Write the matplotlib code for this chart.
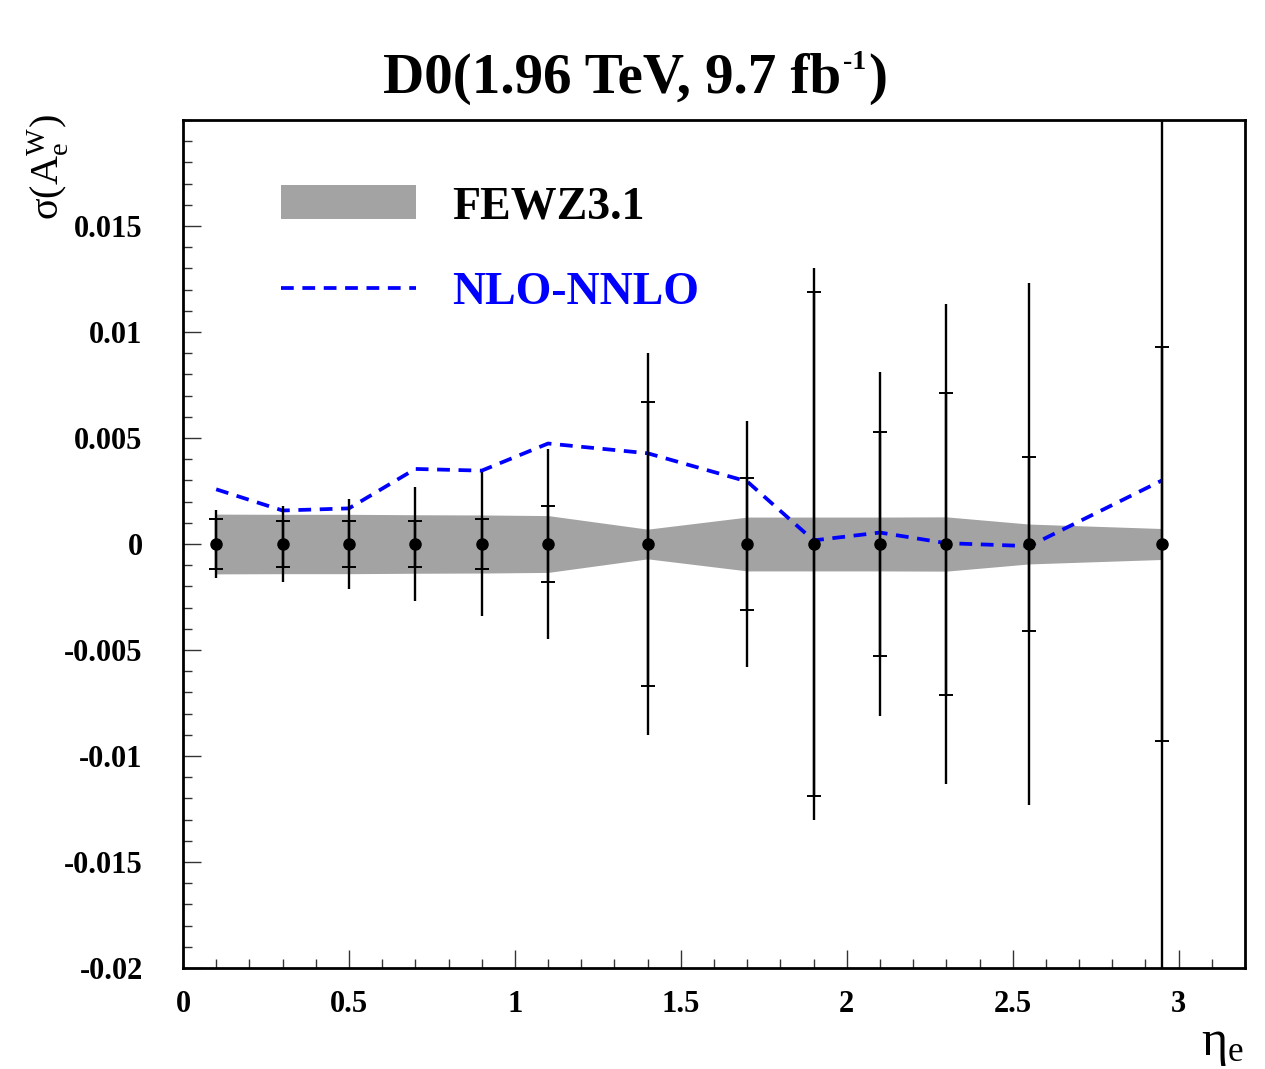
import matplotlib
matplotlib.use("Agg")
import matplotlib.pyplot as plt
from matplotlib.ticker import MultipleLocator, FixedLocator
from matplotlib.patches import Patch
from matplotlib.lines import Line2D

plt.rcParams['font.family'] = ['Liberation Serif', 'DejaVu Serif']
plt.rcParams['font.weight'] = 'bold'
plt.rcParams['mathtext.fontset'] = 'custom'
plt.rcParams['mathtext.rm'] = 'Liberation Serif:normal'
plt.rcParams['mathtext.bf'] = 'Liberation Serif:bold'
plt.rcParams['mathtext.it'] = 'Liberation Serif:italic:normal'

# ---- data ----
eta = [0.1, 0.3, 0.5, 0.7, 0.9, 1.1, 1.4, 1.7, 1.9, 2.1, 2.3, 2.55, 2.95]
center = [0, 0, 0, 0, 0, 0, 0, 0, 0, 0, 0, 0, 0]
err_total = [0.0016, 0.0018, 0.0021, 0.0027, 0.0034, 0.0045, 0.0090, 0.0058,
             0.0130, 0.0081, 0.0113, 0.0123, 0.025]
err_inner = [0.0012, 0.0011, 0.0011, 0.0011, 0.0012, 0.0018, 0.0067, 0.0031,
             0.0119, 0.0053, 0.0071, 0.0041, 0.0093]
fewz_band = [0.00141, 0.00140, 0.00140, 0.00138, 0.00137, 0.00134, 0.00070,
             0.00127, 0.00127, 0.00127, 0.00128, 0.00094, 0.00073]
nlo_nnlo = [0.00258, 0.00158, 0.00168, 0.00354, 0.00346, 0.00474, 0.00428,
            0.00295, 0.00017, 0.00054, 0.00004, -0.00010, 0.00300]
xticks = [0, 0.5, 1, 1.5, 2, 2.5, 3]
xticklabels = ['0', '0.5', '1', '1.5', '2', '2.5', '3']
yticks = [-0.02, -0.015, -0.01, -0.005, 0, 0.005, 0.01, 0.015]
yticklabels = ['-0.02', '-0.015', '-0.01', '-0.005', '0', '0.005', '0.01', '0.015']

fig = plt.figure(figsize=(12.65, 10.69), dpi=100)
ax = fig.add_axes([183/1265, 101/1069, 1062/1265, 848/1069])

band_lo = [-b for b in fewz_band]
ax.fill_between(eta, band_lo, fewz_band, color='#a3a3a3', lw=0, zorder=1)
ax.plot(eta, nlo_nnlo, color='#0000ff', lw=2.7, dashes=(3.4, 2.3), zorder=2)
ax.errorbar(eta, center, yerr=err_total, fmt='o', color='black', ms=8,
            elinewidth=1.7, capsize=0, zorder=3)
ax.errorbar(eta, center, yerr=err_inner, fmt='none', ecolor='black',
            elinewidth=1.7, capsize=5, capthick=1.4, zorder=3)

ax.set_xlim(0, 3.2)
ax.set_ylim(-0.02, 0.02)
ax.xaxis.set_major_locator(FixedLocator(xticks))
ax.set_xticklabels(xticklabels)
ax.yaxis.set_major_locator(FixedLocator(yticks))
ax.set_yticklabels(yticklabels)
ax.xaxis.set_minor_locator(MultipleLocator(0.1))
ax.yaxis.set_minor_locator(MultipleLocator(0.001))
ax.tick_params(axis='both', which='both', direction='in', top=False, right=False,
               width=1.0, color='#333333')
ax.tick_params(axis='both', which='major', length=13, labelsize=22)
ax.tick_params(axis='both', which='minor', length=6.5)
ax.tick_params(axis='x', which='major', pad=16)
ax.tick_params(axis='y', which='major', pad=29)
for lab in ax.get_xticklabels() + ax.get_yticklabels():
    lab.set_fontweight('bold')
for sp in ax.spines.values():
    sp.set_linewidth(2.0)

# title with a plain hyphen in the superscript
base_y = 1 - 93/1069
t1 = fig.text(383/1265, base_y, 'D0(1.96 TeV, 9.7 fb', ha='left',
              va='baseline', fontsize=41, fontweight='bold')
a2 = fig.add_artist(matplotlib.text.Annotation(
    '-1', xy=(1.0, base_y), xycoords=(t1, 'figure fraction'),
    xytext=(1.5, 17), textcoords='offset points', ha='left', va='baseline',
    fontsize=20, fontweight='bold', annotation_clip=False))
a3 = fig.add_artist(matplotlib.text.Annotation(
    ')', xy=(1.0, base_y), xycoords=(a2, 'figure fraction'),
    xytext=(1, 0), textcoords='offset points', ha='left', va='baseline',
    fontsize=41, fontweight='bold', annotation_clip=False))

fig.text(48/1265, 1 - 167/1069, r'$\mathrm{\sigma(A_e^W)}$', rotation=90,
         ha='center', va='center', fontsize=29)
fig.text(1222/1265, 1 - 1045/1069, r'$\mathrm{\eta_e}$', ha='center', va='center',
         fontsize=36)

handles = [Patch(facecolor='#a3a3a3', edgecolor='none'),
           Line2D([], [], color='#0000ff', lw=2.7, dashes=(3.4, 2.3))]
leg = ax.legend(handles, ['FEWZ3.1', 'NLO-NNLO'], loc='upper left',
                bbox_to_anchor=(0.092, 0.923), frameon=False,
                handlelength=2.95, handleheight=0.77, handletextpad=0.8,
                labelspacing=0.94, borderpad=0, borderaxespad=0,
                prop={'weight': 'bold', 'size': 33})
leg.get_texts()[1].set_color('#0000ff')

fig.savefig('out.png', dpi=100)
